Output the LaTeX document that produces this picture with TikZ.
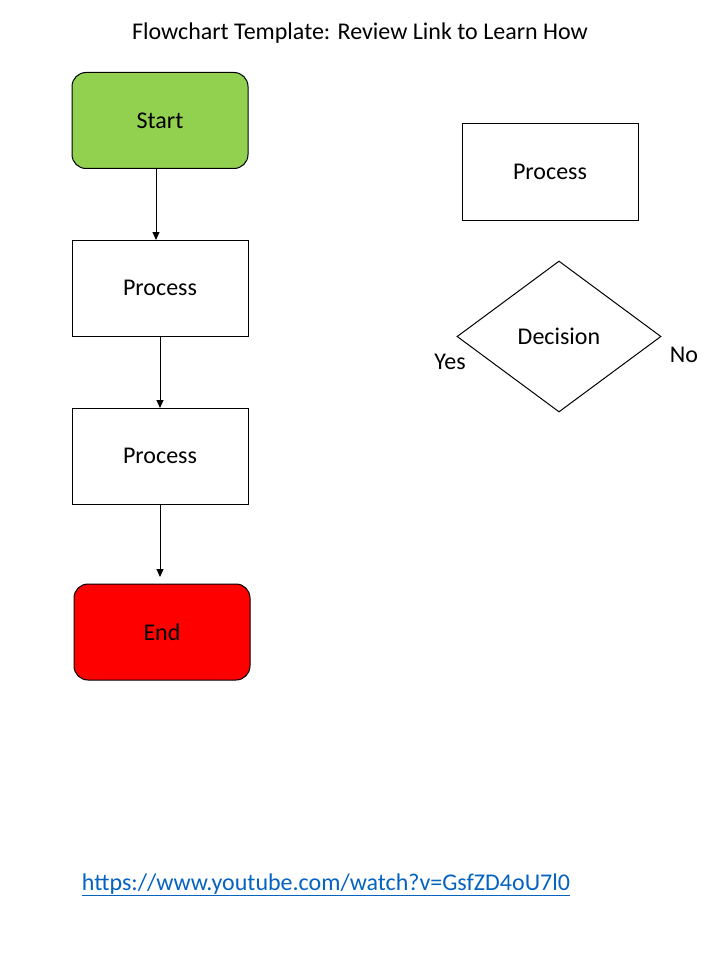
\documentclass[tikz,border=0pt]{standalone}
\usepackage{fontspec}
\setmainfont{Carlito}
\usetikzlibrary{shapes.geometric,arrows.meta}
\definecolor{startgreen}{HTML}{92D050}
\definecolor{linkblue}{HTML}{0563C1}
\begin{document}
\begin{tikzpicture}[x=1pt,y=-1pt,line width=1pt,
        every node/.style={font=\fontsize{24}{28}\selectfont},
        box/.style={draw,rectangle,minimum width=176pt,minimum height=96pt,inner sep=0pt,text depth=0pt},
        term/.style={box,rounded corners=14pt},
        choice/.style={draw,diamond,minimum width=204pt,minimum height=151pt,inner sep=0pt},
        flow/.style={-{Triangle[length=8pt,width=7pt]}}]
    \useasboundingbox[fill=white] (0,0) rectangle (720,960);

    \node (title) at (360,33.5) {Flowchart Template: Review Link to Learn How};

    \node (start) at (160,120.5) [term,fill=startgreen]{Start};
    \node (proc1) at (160,288) [box]{Process};
    \node (proc2) at (160,456) [box]{Process};
    \node (end) at (162,632) [term,fill=red]{End};

    \node (proc3) at (550,172) [box]{Process};
    \node (dec) at (559,336.5) [choice]{};
    \node at (dec.center) [text depth=0pt]{Decision};
    \node (yes) at (450,361.5) {Yes};
    \node (no) at (684,354.5) {No};

    \node (link) at (326,885) [text=linkblue]{\underline{https://www.youtube.com/watch?v=GsfZD4oU7l0}};

    \coordinate (a1) at (156,240);
    \coordinate (a2) at (160,408);
    \coordinate (a3) at (160,577);
    \draw[flow] (start.south -| a1) -- (a1);
    \draw[flow] (proc1.south) -- (a2);
    \draw[flow] (proc2.south) -- (a3);
\end{tikzpicture}
\end{document}
